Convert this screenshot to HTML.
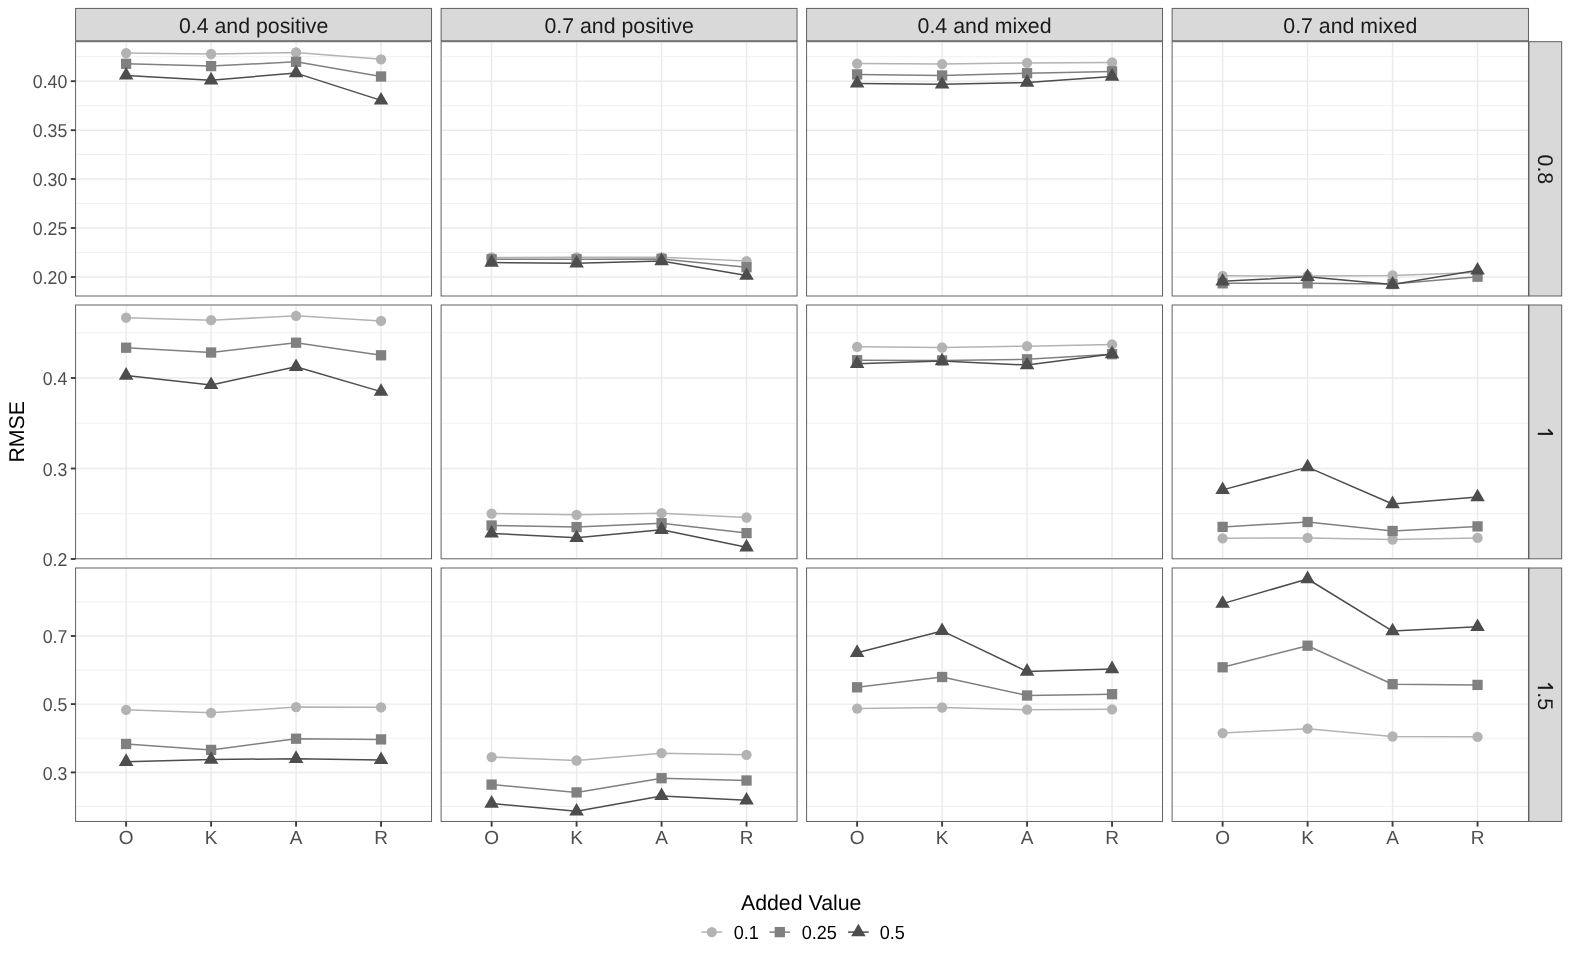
<!DOCTYPE html>
<html><head><meta charset="utf-8"><title>RMSE plot</title>
<style>html,body{margin:0;padding:0;background:#fff;}svg{display:block;}text{font-family:"Liberation Sans",sans-serif;text-rendering:geometricPrecision;}</style>
</head><body>
<svg style="will-change:transform" width="1570" height="962" viewBox="0 0 1570 962">
<rect x="0" y="0" width="1570" height="962" fill="#fff"/>
<g>
<path d="M75.6 56.7H431.56M75.6 105.7H431.56M75.6 154.6H431.56M75.6 203.5H431.56M75.6 252.5H431.56" stroke="#EBEBEB" stroke-width="0.75" fill="none"/>
<path d="M75.6 81.2H431.56M75.6 130.2H431.56M75.6 179H431.56M75.6 228H431.56M75.6 277H431.56M126.12 41.7V296M211.09 41.7V296M296.07 41.7V296M381.04 41.7V296" stroke="#EBEBEB" stroke-width="1.45" fill="none"/>
<polyline points="126.12,53.1 211.09,54 296.07,52.4 381.04,59.3" fill="none" stroke="#B3B3B3" stroke-width="1.5" stroke-linejoin="round"/>
<polyline points="126.12,63.8 211.09,66.1 296.07,61.8 381.04,76.5" fill="none" stroke="#808080" stroke-width="1.5" stroke-linejoin="round"/>
<polyline points="126.12,75.4 211.09,80.2 296.07,73.1 381.04,100.4" fill="none" stroke="#4D4D4D" stroke-width="1.5" stroke-linejoin="round"/>
<circle cx="126.12" cy="53.1" r="5.15" fill="#B3B3B3"/>
<circle cx="211.09" cy="54" r="5.15" fill="#B3B3B3"/>
<circle cx="296.07" cy="52.4" r="5.15" fill="#B3B3B3"/>
<circle cx="381.04" cy="59.3" r="5.15" fill="#B3B3B3"/>
<rect x="120.97" y="58.65" width="10.3" height="10.3" fill="#808080"/>
<rect x="205.94" y="60.95" width="10.3" height="10.3" fill="#808080"/>
<rect x="290.92" y="56.65" width="10.3" height="10.3" fill="#808080"/>
<rect x="375.89" y="71.35" width="10.3" height="10.3" fill="#808080"/>
<path d="M126.12 67L133.39 79.6L118.84 79.6ZM211.09 71.8L218.36 84.4L203.82 84.4ZM296.07 64.7L303.34 77.3L288.8 77.3ZM381.04 92L388.32 104.6L373.77 104.6Z" fill="#4D4D4D"/>
<rect x="75.6" y="41.7" width="355.96" height="254.3" fill="none" stroke="#595959" stroke-width="0.95"/>
</g>
<g>
<path d="M441.1 56.7H797.06M441.1 105.7H797.06M441.1 154.6H797.06M441.1 203.5H797.06M441.1 252.5H797.06" stroke="#EBEBEB" stroke-width="0.75" fill="none"/>
<path d="M441.1 81.2H797.06M441.1 130.2H797.06M441.1 179H797.06M441.1 228H797.06M441.1 277H797.06M491.62 41.7V296M576.59 41.7V296M661.57 41.7V296M746.54 41.7V296" stroke="#EBEBEB" stroke-width="1.45" fill="none"/>
<polyline points="491.62,257.4 576.59,257.3 661.57,257.3 746.54,261.1" fill="none" stroke="#B3B3B3" stroke-width="1.5" stroke-linejoin="round"/>
<polyline points="491.62,259.3 576.59,259.3 661.57,258.9 746.54,267.2" fill="none" stroke="#808080" stroke-width="1.5" stroke-linejoin="round"/>
<polyline points="491.62,262.5 576.59,263.3 661.57,261 746.54,275.6" fill="none" stroke="#4D4D4D" stroke-width="1.5" stroke-linejoin="round"/>
<circle cx="491.62" cy="257.4" r="5.15" fill="#B3B3B3"/>
<circle cx="576.59" cy="257.3" r="5.15" fill="#B3B3B3"/>
<circle cx="661.57" cy="257.3" r="5.15" fill="#B3B3B3"/>
<circle cx="746.54" cy="261.1" r="5.15" fill="#B3B3B3"/>
<rect x="486.47" y="254.15" width="10.3" height="10.3" fill="#808080"/>
<rect x="571.44" y="254.15" width="10.3" height="10.3" fill="#808080"/>
<rect x="656.42" y="253.75" width="10.3" height="10.3" fill="#808080"/>
<rect x="741.39" y="262.05" width="10.3" height="10.3" fill="#808080"/>
<path d="M491.62 254.1L498.89 266.7L484.34 266.7ZM576.59 254.9L583.86 267.5L569.32 267.5ZM661.57 252.6L668.84 265.2L654.3 265.2ZM746.54 267.2L753.82 279.8L739.27 279.8Z" fill="#4D4D4D"/>
<rect x="441.1" y="41.7" width="355.96" height="254.3" fill="none" stroke="#595959" stroke-width="0.95"/>
</g>
<g>
<path d="M806.6 56.7H1162.56M806.6 105.7H1162.56M806.6 154.6H1162.56M806.6 203.5H1162.56M806.6 252.5H1162.56" stroke="#EBEBEB" stroke-width="0.75" fill="none"/>
<path d="M806.6 81.2H1162.56M806.6 130.2H1162.56M806.6 179H1162.56M806.6 228H1162.56M806.6 277H1162.56M857.12 41.7V296M942.09 41.7V296M1027.07 41.7V296M1112.04 41.7V296" stroke="#EBEBEB" stroke-width="1.45" fill="none"/>
<polyline points="857.12,63.6 942.09,64.1 1027.07,62.9 1112.04,62.5" fill="none" stroke="#B3B3B3" stroke-width="1.5" stroke-linejoin="round"/>
<polyline points="857.12,74.4 942.09,75.5 1027.07,73.2 1112.04,71.4" fill="none" stroke="#808080" stroke-width="1.5" stroke-linejoin="round"/>
<polyline points="857.12,83.4 942.09,84.3 1027.07,82.5 1112.04,76.5" fill="none" stroke="#4D4D4D" stroke-width="1.5" stroke-linejoin="round"/>
<circle cx="857.12" cy="63.6" r="5.15" fill="#B3B3B3"/>
<circle cx="942.09" cy="64.1" r="5.15" fill="#B3B3B3"/>
<circle cx="1027.07" cy="62.9" r="5.15" fill="#B3B3B3"/>
<circle cx="1112.04" cy="62.5" r="5.15" fill="#B3B3B3"/>
<rect x="851.97" y="69.25" width="10.3" height="10.3" fill="#808080"/>
<rect x="936.94" y="70.35" width="10.3" height="10.3" fill="#808080"/>
<rect x="1021.92" y="68.05" width="10.3" height="10.3" fill="#808080"/>
<rect x="1106.89" y="66.25" width="10.3" height="10.3" fill="#808080"/>
<path d="M857.12 75L864.39 87.6L849.84 87.6ZM942.09 75.9L949.36 88.5L934.82 88.5ZM1027.07 74.1L1034.34 86.7L1019.8 86.7ZM1112.04 68.1L1119.32 80.7L1104.77 80.7Z" fill="#4D4D4D"/>
<rect x="806.6" y="41.7" width="355.96" height="254.3" fill="none" stroke="#595959" stroke-width="0.95"/>
</g>
<g>
<path d="M1172.1 56.7H1528.45M1172.1 105.7H1528.45M1172.1 154.6H1528.45M1172.1 203.5H1528.45M1172.1 252.5H1528.45" stroke="#EBEBEB" stroke-width="0.75" fill="none"/>
<path d="M1172.1 81.2H1528.45M1172.1 130.2H1528.45M1172.1 179H1528.45M1172.1 228H1528.45M1172.1 277H1528.45M1222.62 41.7V296M1307.59 41.7V296M1392.57 41.7V296M1477.54 41.7V296" stroke="#EBEBEB" stroke-width="1.45" fill="none"/>
<polyline points="1222.62,275.8 1307.59,276 1392.57,275.5 1477.54,272.5" fill="none" stroke="#B3B3B3" stroke-width="1.5" stroke-linejoin="round"/>
<polyline points="1222.62,283.3 1307.59,283.3 1392.57,284 1477.54,276.7" fill="none" stroke="#808080" stroke-width="1.5" stroke-linejoin="round"/>
<polyline points="1222.62,281.3 1307.59,276.8 1392.57,284.5 1477.54,270.3" fill="none" stroke="#4D4D4D" stroke-width="1.5" stroke-linejoin="round"/>
<circle cx="1222.62" cy="275.8" r="5.15" fill="#B3B3B3"/>
<circle cx="1307.59" cy="276" r="5.15" fill="#B3B3B3"/>
<circle cx="1392.57" cy="275.5" r="5.15" fill="#B3B3B3"/>
<circle cx="1477.54" cy="272.5" r="5.15" fill="#B3B3B3"/>
<rect x="1217.47" y="278.15" width="10.3" height="10.3" fill="#808080"/>
<rect x="1302.44" y="278.15" width="10.3" height="10.3" fill="#808080"/>
<rect x="1387.42" y="278.85" width="10.3" height="10.3" fill="#808080"/>
<rect x="1472.39" y="271.55" width="10.3" height="10.3" fill="#808080"/>
<path d="M1222.62 272.9L1229.89 285.5L1215.34 285.5ZM1307.59 268.4L1314.86 281L1300.32 281ZM1392.57 276.1L1399.84 288.7L1385.3 288.7ZM1477.54 261.9L1484.82 274.5L1470.27 274.5Z" fill="#4D4D4D"/>
<rect x="1172.1" y="41.7" width="356.35" height="254.3" fill="none" stroke="#595959" stroke-width="0.95"/>
</g>
<g>
<path d="M75.6 332.8H431.56M75.6 423.2H431.56M75.6 513.7H431.56" stroke="#EBEBEB" stroke-width="0.75" fill="none"/>
<path d="M75.6 378H431.56M75.6 468.5H431.56M126.12 305V558.8M211.09 305V558.8M296.07 305V558.8M381.04 305V558.8" stroke="#EBEBEB" stroke-width="1.45" fill="none"/>
<polyline points="126.12,317.7 211.09,320.2 296.07,315.8 381.04,320.9" fill="none" stroke="#B3B3B3" stroke-width="1.5" stroke-linejoin="round"/>
<polyline points="126.12,347.7 211.09,352.5 296.07,342.7 381.04,355.3" fill="none" stroke="#808080" stroke-width="1.5" stroke-linejoin="round"/>
<polyline points="126.12,375.5 211.09,384.9 296.07,366.8 381.04,391.6" fill="none" stroke="#4D4D4D" stroke-width="1.5" stroke-linejoin="round"/>
<circle cx="126.12" cy="317.7" r="5.15" fill="#B3B3B3"/>
<circle cx="211.09" cy="320.2" r="5.15" fill="#B3B3B3"/>
<circle cx="296.07" cy="315.8" r="5.15" fill="#B3B3B3"/>
<circle cx="381.04" cy="320.9" r="5.15" fill="#B3B3B3"/>
<rect x="120.97" y="342.55" width="10.3" height="10.3" fill="#808080"/>
<rect x="205.94" y="347.35" width="10.3" height="10.3" fill="#808080"/>
<rect x="290.92" y="337.55" width="10.3" height="10.3" fill="#808080"/>
<rect x="375.89" y="350.15" width="10.3" height="10.3" fill="#808080"/>
<path d="M126.12 367.1L133.39 379.7L118.84 379.7ZM211.09 376.5L218.36 389.1L203.82 389.1ZM296.07 358.4L303.34 371L288.8 371ZM381.04 383.2L388.32 395.8L373.77 395.8Z" fill="#4D4D4D"/>
<rect x="75.6" y="305" width="355.96" height="253.8" fill="none" stroke="#595959" stroke-width="0.95"/>
</g>
<g>
<path d="M441.1 332.8H797.06M441.1 423.2H797.06M441.1 513.7H797.06" stroke="#EBEBEB" stroke-width="0.75" fill="none"/>
<path d="M441.1 378H797.06M441.1 468.5H797.06M491.62 305V558.8M576.59 305V558.8M661.57 305V558.8M746.54 305V558.8" stroke="#EBEBEB" stroke-width="1.45" fill="none"/>
<polyline points="491.62,513.6 576.59,514.8 661.57,513.2 746.54,517.5" fill="none" stroke="#B3B3B3" stroke-width="1.5" stroke-linejoin="round"/>
<polyline points="491.62,525.5 576.59,527.1 661.57,523.2 746.54,533.1" fill="none" stroke="#808080" stroke-width="1.5" stroke-linejoin="round"/>
<polyline points="491.62,533.4 576.59,537.8 661.57,529.7 746.54,547.2" fill="none" stroke="#4D4D4D" stroke-width="1.5" stroke-linejoin="round"/>
<circle cx="491.62" cy="513.6" r="5.15" fill="#B3B3B3"/>
<circle cx="576.59" cy="514.8" r="5.15" fill="#B3B3B3"/>
<circle cx="661.57" cy="513.2" r="5.15" fill="#B3B3B3"/>
<circle cx="746.54" cy="517.5" r="5.15" fill="#B3B3B3"/>
<rect x="486.47" y="520.35" width="10.3" height="10.3" fill="#808080"/>
<rect x="571.44" y="521.95" width="10.3" height="10.3" fill="#808080"/>
<rect x="656.42" y="518.05" width="10.3" height="10.3" fill="#808080"/>
<rect x="741.39" y="527.95" width="10.3" height="10.3" fill="#808080"/>
<path d="M491.62 525L498.89 537.6L484.34 537.6ZM576.59 529.4L583.86 542L569.32 542ZM661.57 521.3L668.84 533.9L654.3 533.9ZM746.54 538.8L753.82 551.4L739.27 551.4Z" fill="#4D4D4D"/>
<rect x="441.1" y="305" width="355.96" height="253.8" fill="none" stroke="#595959" stroke-width="0.95"/>
</g>
<g>
<path d="M806.6 332.8H1162.56M806.6 423.2H1162.56M806.6 513.7H1162.56" stroke="#EBEBEB" stroke-width="0.75" fill="none"/>
<path d="M806.6 378H1162.56M806.6 468.5H1162.56M857.12 305V558.8M942.09 305V558.8M1027.07 305V558.8M1112.04 305V558.8" stroke="#EBEBEB" stroke-width="1.45" fill="none"/>
<polyline points="857.12,346.8 942.09,347.5 1027.07,346.2 1112.04,344.4" fill="none" stroke="#B3B3B3" stroke-width="1.5" stroke-linejoin="round"/>
<polyline points="857.12,360.2 942.09,360.4 1027.07,359.3 1112.04,354.2" fill="none" stroke="#808080" stroke-width="1.5" stroke-linejoin="round"/>
<polyline points="857.12,363.7 942.09,361 1027.07,365.1 1112.04,354" fill="none" stroke="#4D4D4D" stroke-width="1.5" stroke-linejoin="round"/>
<circle cx="857.12" cy="346.8" r="5.15" fill="#B3B3B3"/>
<circle cx="942.09" cy="347.5" r="5.15" fill="#B3B3B3"/>
<circle cx="1027.07" cy="346.2" r="5.15" fill="#B3B3B3"/>
<circle cx="1112.04" cy="344.4" r="5.15" fill="#B3B3B3"/>
<rect x="851.97" y="355.05" width="10.3" height="10.3" fill="#808080"/>
<rect x="936.94" y="355.25" width="10.3" height="10.3" fill="#808080"/>
<rect x="1021.92" y="354.15" width="10.3" height="10.3" fill="#808080"/>
<rect x="1106.89" y="349.05" width="10.3" height="10.3" fill="#808080"/>
<path d="M857.12 355.3L864.39 367.9L849.84 367.9ZM942.09 352.6L949.36 365.2L934.82 365.2ZM1027.07 356.7L1034.34 369.3L1019.8 369.3ZM1112.04 345.6L1119.32 358.2L1104.77 358.2Z" fill="#4D4D4D"/>
<rect x="806.6" y="305" width="355.96" height="253.8" fill="none" stroke="#595959" stroke-width="0.95"/>
</g>
<g>
<path d="M1172.1 332.8H1528.45M1172.1 423.2H1528.45M1172.1 513.7H1528.45" stroke="#EBEBEB" stroke-width="0.75" fill="none"/>
<path d="M1172.1 378H1528.45M1172.1 468.5H1528.45M1222.62 305V558.8M1307.59 305V558.8M1392.57 305V558.8M1477.54 305V558.8" stroke="#EBEBEB" stroke-width="1.45" fill="none"/>
<polyline points="1222.62,538.3 1307.59,537.9 1392.57,539.5 1477.54,537.9" fill="none" stroke="#B3B3B3" stroke-width="1.5" stroke-linejoin="round"/>
<polyline points="1222.62,526.9 1307.59,522 1392.57,531 1477.54,526.4" fill="none" stroke="#808080" stroke-width="1.5" stroke-linejoin="round"/>
<polyline points="1222.62,489.9 1307.59,467.1 1392.57,504 1477.54,497.1" fill="none" stroke="#4D4D4D" stroke-width="1.5" stroke-linejoin="round"/>
<circle cx="1222.62" cy="538.3" r="5.15" fill="#B3B3B3"/>
<circle cx="1307.59" cy="537.9" r="5.15" fill="#B3B3B3"/>
<circle cx="1392.57" cy="539.5" r="5.15" fill="#B3B3B3"/>
<circle cx="1477.54" cy="537.9" r="5.15" fill="#B3B3B3"/>
<rect x="1217.47" y="521.75" width="10.3" height="10.3" fill="#808080"/>
<rect x="1302.44" y="516.85" width="10.3" height="10.3" fill="#808080"/>
<rect x="1387.42" y="525.85" width="10.3" height="10.3" fill="#808080"/>
<rect x="1472.39" y="521.25" width="10.3" height="10.3" fill="#808080"/>
<path d="M1222.62 481.5L1229.89 494.1L1215.34 494.1ZM1307.59 458.7L1314.86 471.3L1300.32 471.3ZM1392.57 495.6L1399.84 508.2L1385.3 508.2ZM1477.54 488.7L1484.82 501.3L1470.27 501.3Z" fill="#4D4D4D"/>
<rect x="1172.1" y="305" width="356.35" height="253.8" fill="none" stroke="#595959" stroke-width="0.95"/>
</g>
<g>
<path d="M75.6 601.9H431.56M75.6 670.1H431.56M75.6 738.2H431.56M75.6 806.5H431.56" stroke="#EBEBEB" stroke-width="0.75" fill="none"/>
<path d="M75.6 636H431.56M75.6 704.1H431.56M75.6 772.4H431.56M126.12 568V821.43M211.09 568V821.43M296.07 568V821.43M381.04 568V821.43" stroke="#EBEBEB" stroke-width="1.45" fill="none"/>
<polyline points="126.12,709.8 211.09,712.8 296.07,707.1 381.04,707.3" fill="none" stroke="#B3B3B3" stroke-width="1.5" stroke-linejoin="round"/>
<polyline points="126.12,744 211.09,749.9 296.07,738.7 381.04,739.4" fill="none" stroke="#808080" stroke-width="1.5" stroke-linejoin="round"/>
<polyline points="126.12,761.7 211.09,759.6 296.07,758.7 381.04,759.9" fill="none" stroke="#4D4D4D" stroke-width="1.5" stroke-linejoin="round"/>
<circle cx="126.12" cy="709.8" r="5.15" fill="#B3B3B3"/>
<circle cx="211.09" cy="712.8" r="5.15" fill="#B3B3B3"/>
<circle cx="296.07" cy="707.1" r="5.15" fill="#B3B3B3"/>
<circle cx="381.04" cy="707.3" r="5.15" fill="#B3B3B3"/>
<rect x="120.97" y="738.85" width="10.3" height="10.3" fill="#808080"/>
<rect x="205.94" y="744.75" width="10.3" height="10.3" fill="#808080"/>
<rect x="290.92" y="733.55" width="10.3" height="10.3" fill="#808080"/>
<rect x="375.89" y="734.25" width="10.3" height="10.3" fill="#808080"/>
<path d="M126.12 753.3L133.39 765.9L118.84 765.9ZM211.09 751.2L218.36 763.8L203.82 763.8ZM296.07 750.3L303.34 762.9L288.8 762.9ZM381.04 751.5L388.32 764.1L373.77 764.1Z" fill="#4D4D4D"/>
<rect x="75.6" y="568" width="355.96" height="253.43" fill="none" stroke="#595959" stroke-width="0.95"/>
</g>
<g>
<path d="M441.1 601.9H797.06M441.1 670.1H797.06M441.1 738.2H797.06M441.1 806.5H797.06" stroke="#EBEBEB" stroke-width="0.75" fill="none"/>
<path d="M441.1 636H797.06M441.1 704.1H797.06M441.1 772.4H797.06M491.62 568V821.43M576.59 568V821.43M661.57 568V821.43M746.54 568V821.43" stroke="#EBEBEB" stroke-width="1.45" fill="none"/>
<polyline points="491.62,757.1 576.59,760.5 661.57,753.2 746.54,754.8" fill="none" stroke="#B3B3B3" stroke-width="1.5" stroke-linejoin="round"/>
<polyline points="491.62,784.6 576.59,792.4 661.57,778.2 746.54,780.5" fill="none" stroke="#808080" stroke-width="1.5" stroke-linejoin="round"/>
<polyline points="491.62,803.5 576.59,811.3 661.57,795.9 746.54,800.3" fill="none" stroke="#4D4D4D" stroke-width="1.5" stroke-linejoin="round"/>
<circle cx="491.62" cy="757.1" r="5.15" fill="#B3B3B3"/>
<circle cx="576.59" cy="760.5" r="5.15" fill="#B3B3B3"/>
<circle cx="661.57" cy="753.2" r="5.15" fill="#B3B3B3"/>
<circle cx="746.54" cy="754.8" r="5.15" fill="#B3B3B3"/>
<rect x="486.47" y="779.45" width="10.3" height="10.3" fill="#808080"/>
<rect x="571.44" y="787.25" width="10.3" height="10.3" fill="#808080"/>
<rect x="656.42" y="773.05" width="10.3" height="10.3" fill="#808080"/>
<rect x="741.39" y="775.35" width="10.3" height="10.3" fill="#808080"/>
<path d="M491.62 795.1L498.89 807.7L484.34 807.7ZM576.59 802.9L583.86 815.5L569.32 815.5ZM661.57 787.5L668.84 800.1L654.3 800.1ZM746.54 791.9L753.82 804.5L739.27 804.5Z" fill="#4D4D4D"/>
<rect x="441.1" y="568" width="355.96" height="253.43" fill="none" stroke="#595959" stroke-width="0.95"/>
</g>
<g>
<path d="M806.6 601.9H1162.56M806.6 670.1H1162.56M806.6 738.2H1162.56M806.6 806.5H1162.56" stroke="#EBEBEB" stroke-width="0.75" fill="none"/>
<path d="M806.6 636H1162.56M806.6 704.1H1162.56M806.6 772.4H1162.56M857.12 568V821.43M942.09 568V821.43M1027.07 568V821.43M1112.04 568V821.43" stroke="#EBEBEB" stroke-width="1.45" fill="none"/>
<polyline points="857.12,708.6 942.09,707.5 1027.07,709.7 1112.04,709.3" fill="none" stroke="#B3B3B3" stroke-width="1.5" stroke-linejoin="round"/>
<polyline points="857.12,687.3 942.09,677 1027.07,695.5 1112.04,694.2" fill="none" stroke="#808080" stroke-width="1.5" stroke-linejoin="round"/>
<polyline points="857.12,652.7 942.09,630.9 1027.07,671.5 1112.04,669" fill="none" stroke="#4D4D4D" stroke-width="1.5" stroke-linejoin="round"/>
<circle cx="857.12" cy="708.6" r="5.15" fill="#B3B3B3"/>
<circle cx="942.09" cy="707.5" r="5.15" fill="#B3B3B3"/>
<circle cx="1027.07" cy="709.7" r="5.15" fill="#B3B3B3"/>
<circle cx="1112.04" cy="709.3" r="5.15" fill="#B3B3B3"/>
<rect x="851.97" y="682.15" width="10.3" height="10.3" fill="#808080"/>
<rect x="936.94" y="671.85" width="10.3" height="10.3" fill="#808080"/>
<rect x="1021.92" y="690.35" width="10.3" height="10.3" fill="#808080"/>
<rect x="1106.89" y="689.05" width="10.3" height="10.3" fill="#808080"/>
<path d="M857.12 644.3L864.39 656.9L849.84 656.9ZM942.09 622.5L949.36 635.1L934.82 635.1ZM1027.07 663.1L1034.34 675.7L1019.8 675.7ZM1112.04 660.6L1119.32 673.2L1104.77 673.2Z" fill="#4D4D4D"/>
<rect x="806.6" y="568" width="355.96" height="253.43" fill="none" stroke="#595959" stroke-width="0.95"/>
</g>
<g>
<path d="M1172.1 601.9H1528.45M1172.1 670.1H1528.45M1172.1 738.2H1528.45M1172.1 806.5H1528.45" stroke="#EBEBEB" stroke-width="0.75" fill="none"/>
<path d="M1172.1 636H1528.45M1172.1 704.1H1528.45M1172.1 772.4H1528.45M1222.62 568V821.43M1307.59 568V821.43M1392.57 568V821.43M1477.54 568V821.43" stroke="#EBEBEB" stroke-width="1.45" fill="none"/>
<polyline points="1222.62,733.1 1307.59,728.7 1392.57,736.5 1477.54,736.8" fill="none" stroke="#B3B3B3" stroke-width="1.5" stroke-linejoin="round"/>
<polyline points="1222.62,667.3 1307.59,645.7 1392.57,684.2 1477.54,684.9" fill="none" stroke="#808080" stroke-width="1.5" stroke-linejoin="round"/>
<polyline points="1222.62,603.6 1307.59,579 1392.57,631.1 1477.54,626.8" fill="none" stroke="#4D4D4D" stroke-width="1.5" stroke-linejoin="round"/>
<circle cx="1222.62" cy="733.1" r="5.15" fill="#B3B3B3"/>
<circle cx="1307.59" cy="728.7" r="5.15" fill="#B3B3B3"/>
<circle cx="1392.57" cy="736.5" r="5.15" fill="#B3B3B3"/>
<circle cx="1477.54" cy="736.8" r="5.15" fill="#B3B3B3"/>
<rect x="1217.47" y="662.15" width="10.3" height="10.3" fill="#808080"/>
<rect x="1302.44" y="640.55" width="10.3" height="10.3" fill="#808080"/>
<rect x="1387.42" y="679.05" width="10.3" height="10.3" fill="#808080"/>
<rect x="1472.39" y="679.75" width="10.3" height="10.3" fill="#808080"/>
<path d="M1222.62 595.2L1229.89 607.8L1215.34 607.8ZM1307.59 570.6L1314.86 583.2L1300.32 583.2ZM1392.57 622.7L1399.84 635.3L1385.3 635.3ZM1477.54 618.4L1484.82 631L1470.27 631Z" fill="#4D4D4D"/>
<rect x="1172.1" y="568" width="356.35" height="253.43" fill="none" stroke="#595959" stroke-width="0.95"/>
</g>
<rect x="75.6" y="8.4" width="355.96" height="32.38" fill="#D9D9D9" stroke="#595959" stroke-width="0.95"/>
<text x="253.58" y="33.4" font-size="21.33" fill="#1A1A1A" text-anchor="middle">0.4 and positive</text>
<rect x="441.1" y="8.4" width="355.96" height="32.38" fill="#D9D9D9" stroke="#595959" stroke-width="0.95"/>
<text x="619.08" y="33.4" font-size="21.33" fill="#1A1A1A" text-anchor="middle">0.7 and positive</text>
<rect x="806.6" y="8.4" width="355.96" height="32.38" fill="#D9D9D9" stroke="#595959" stroke-width="0.95"/>
<text x="984.58" y="33.4" font-size="21.33" fill="#1A1A1A" text-anchor="middle">0.4 and mixed</text>
<rect x="1172.1" y="8.4" width="356.35" height="32.38" fill="#D9D9D9" stroke="#595959" stroke-width="0.95"/>
<text x="1350.28" y="33.4" font-size="21.33" fill="#1A1A1A" text-anchor="middle">0.7 and mixed</text>
<rect x="1528.95" y="41.7" width="32.75" height="254.3" fill="#D9D9D9" stroke="#595959" stroke-width="0.95"/>
<text transform="translate(1537.8 169.35) rotate(90)" font-size="21.33" fill="#1A1A1A" text-anchor="middle">0.8</text>
<rect x="1528.95" y="305" width="32.75" height="253.8" fill="#D9D9D9" stroke="#595959" stroke-width="0.95"/>
<g transform="translate(1537.8 432.4) rotate(90)"><rect x="0.42" y="-15.25" width="2.05" height="15.25" fill="#1A1A1A"/><path d="M-3.03 -10.3L1.47 -14.7" stroke="#1A1A1A" stroke-width="1.9" fill="none"/></g>
<rect x="1528.95" y="568" width="32.75" height="253.43" fill="#D9D9D9" stroke="#595959" stroke-width="0.95"/>
<g transform="translate(1537.8 695.21) rotate(90)"><rect x="-8.47" y="-15.25" width="2.05" height="15.25" fill="#1A1A1A"/><path d="M-11.92 -10.3L-7.42 -14.7" stroke="#1A1A1A" stroke-width="1.9" fill="none"/><text x="-2.96" y="0" font-size="21.33" fill="#1A1A1A">.5</text></g>
<path d="M70.8 81.2H75.6" stroke="#3d3d3d" stroke-width="1.9"/>
<text transform="translate(67.3 88.4) scale(0.95 1)" font-size="18.67" fill="#4D4D4D" text-anchor="end">0.40</text>
<path d="M70.8 130.2H75.6" stroke="#3d3d3d" stroke-width="1.9"/>
<text transform="translate(67.3 137.4) scale(0.95 1)" font-size="18.67" fill="#4D4D4D" text-anchor="end">0.35</text>
<path d="M70.8 179H75.6" stroke="#3d3d3d" stroke-width="1.9"/>
<text transform="translate(67.3 186.2) scale(0.95 1)" font-size="18.67" fill="#4D4D4D" text-anchor="end">0.30</text>
<path d="M70.8 228H75.6" stroke="#3d3d3d" stroke-width="1.9"/>
<text transform="translate(67.3 235.2) scale(0.95 1)" font-size="18.67" fill="#4D4D4D" text-anchor="end">0.25</text>
<path d="M70.8 277H75.6" stroke="#3d3d3d" stroke-width="1.9"/>
<text transform="translate(67.3 284.2) scale(0.95 1)" font-size="18.67" fill="#4D4D4D" text-anchor="end">0.20</text>
<path d="M70.8 378H75.6" stroke="#3d3d3d" stroke-width="1.9"/>
<text transform="translate(67.3 385.2) scale(0.95 1)" font-size="18.67" fill="#4D4D4D" text-anchor="end">0.4</text>
<path d="M70.8 468.5H75.6" stroke="#3d3d3d" stroke-width="1.9"/>
<text transform="translate(67.3 475.7) scale(0.95 1)" font-size="18.67" fill="#4D4D4D" text-anchor="end">0.3</text>
<path d="M70.8 559H75.6" stroke="#3d3d3d" stroke-width="1.9"/>
<text transform="translate(67.3 566.2) scale(0.95 1)" font-size="18.67" fill="#4D4D4D" text-anchor="end">0.2</text>
<path d="M70.8 636H75.6" stroke="#3d3d3d" stroke-width="1.9"/>
<text transform="translate(67.3 643.2) scale(0.95 1)" font-size="18.67" fill="#4D4D4D" text-anchor="end">0.7</text>
<path d="M70.8 704.1H75.6" stroke="#3d3d3d" stroke-width="1.9"/>
<text transform="translate(67.3 711.3) scale(0.95 1)" font-size="18.67" fill="#4D4D4D" text-anchor="end">0.5</text>
<path d="M70.8 772.4H75.6" stroke="#3d3d3d" stroke-width="1.9"/>
<text transform="translate(67.3 779.6) scale(0.95 1)" font-size="18.67" fill="#4D4D4D" text-anchor="end">0.3</text>
<path d="M126.12 821.43V826.63" stroke="#3d3d3d" stroke-width="1.9"/>
<text x="126.12" y="843.8" font-size="19" fill="#4D4D4D" text-anchor="middle">O</text>
<path d="M211.09 821.43V826.63" stroke="#3d3d3d" stroke-width="1.9"/>
<text x="211.09" y="843.8" font-size="19" fill="#4D4D4D" text-anchor="middle">K</text>
<path d="M296.07 821.43V826.63" stroke="#3d3d3d" stroke-width="1.9"/>
<text x="296.07" y="843.8" font-size="19" fill="#4D4D4D" text-anchor="middle">A</text>
<path d="M381.04 821.43V826.63" stroke="#3d3d3d" stroke-width="1.9"/>
<text x="381.04" y="843.8" font-size="19" fill="#4D4D4D" text-anchor="middle">R</text>
<path d="M491.62 821.43V826.63" stroke="#3d3d3d" stroke-width="1.9"/>
<text x="491.62" y="843.8" font-size="19" fill="#4D4D4D" text-anchor="middle">O</text>
<path d="M576.59 821.43V826.63" stroke="#3d3d3d" stroke-width="1.9"/>
<text x="576.59" y="843.8" font-size="19" fill="#4D4D4D" text-anchor="middle">K</text>
<path d="M661.57 821.43V826.63" stroke="#3d3d3d" stroke-width="1.9"/>
<text x="661.57" y="843.8" font-size="19" fill="#4D4D4D" text-anchor="middle">A</text>
<path d="M746.54 821.43V826.63" stroke="#3d3d3d" stroke-width="1.9"/>
<text x="746.54" y="843.8" font-size="19" fill="#4D4D4D" text-anchor="middle">R</text>
<path d="M857.12 821.43V826.63" stroke="#3d3d3d" stroke-width="1.9"/>
<text x="857.12" y="843.8" font-size="19" fill="#4D4D4D" text-anchor="middle">O</text>
<path d="M942.09 821.43V826.63" stroke="#3d3d3d" stroke-width="1.9"/>
<text x="942.09" y="843.8" font-size="19" fill="#4D4D4D" text-anchor="middle">K</text>
<path d="M1027.07 821.43V826.63" stroke="#3d3d3d" stroke-width="1.9"/>
<text x="1027.07" y="843.8" font-size="19" fill="#4D4D4D" text-anchor="middle">A</text>
<path d="M1112.04 821.43V826.63" stroke="#3d3d3d" stroke-width="1.9"/>
<text x="1112.04" y="843.8" font-size="19" fill="#4D4D4D" text-anchor="middle">R</text>
<path d="M1222.62 821.43V826.63" stroke="#3d3d3d" stroke-width="1.9"/>
<text x="1222.62" y="843.8" font-size="19" fill="#4D4D4D" text-anchor="middle">O</text>
<path d="M1307.59 821.43V826.63" stroke="#3d3d3d" stroke-width="1.9"/>
<text x="1307.59" y="843.8" font-size="19" fill="#4D4D4D" text-anchor="middle">K</text>
<path d="M1392.57 821.43V826.63" stroke="#3d3d3d" stroke-width="1.9"/>
<text x="1392.57" y="843.8" font-size="19" fill="#4D4D4D" text-anchor="middle">A</text>
<path d="M1477.54 821.43V826.63" stroke="#3d3d3d" stroke-width="1.9"/>
<text x="1477.54" y="843.8" font-size="19" fill="#4D4D4D" text-anchor="middle">R</text>
<text transform="translate(23.8 431.8) rotate(-90)" font-size="21.33" fill="#000" text-anchor="middle">RMSE</text>
<text x="801.2" y="909.5" font-size="21.33" fill="#000" text-anchor="middle">Added Value</text>
<path d="M701.5 932.1H722.1" stroke="#B3B3B3" stroke-width="1.5"/>
<circle cx="711.8" cy="932.1" r="5.15" fill="#B3B3B3"/>
<text transform="translate(733.7 939.1) scale(0.95 1)" font-size="19" fill="#000">0.1</text>
<path d="M769.5 932.1H790.1" stroke="#808080" stroke-width="1.5"/>
<rect x="774.65" y="926.95" width="10.3" height="10.3" fill="#808080"/>
<text transform="translate(801.7 939.1) scale(0.95 1)" font-size="19" fill="#000">0.25</text>
<path d="M848.1 932.1H868.7" stroke="#4D4D4D" stroke-width="1.5"/>
<path d="M858.4 923.7L865.67 936.3L851.13 936.3Z" fill="#4D4D4D"/>
<text transform="translate(879.7 939.1) scale(0.95 1)" font-size="19" fill="#000">0.5</text>
</svg></body></html>
